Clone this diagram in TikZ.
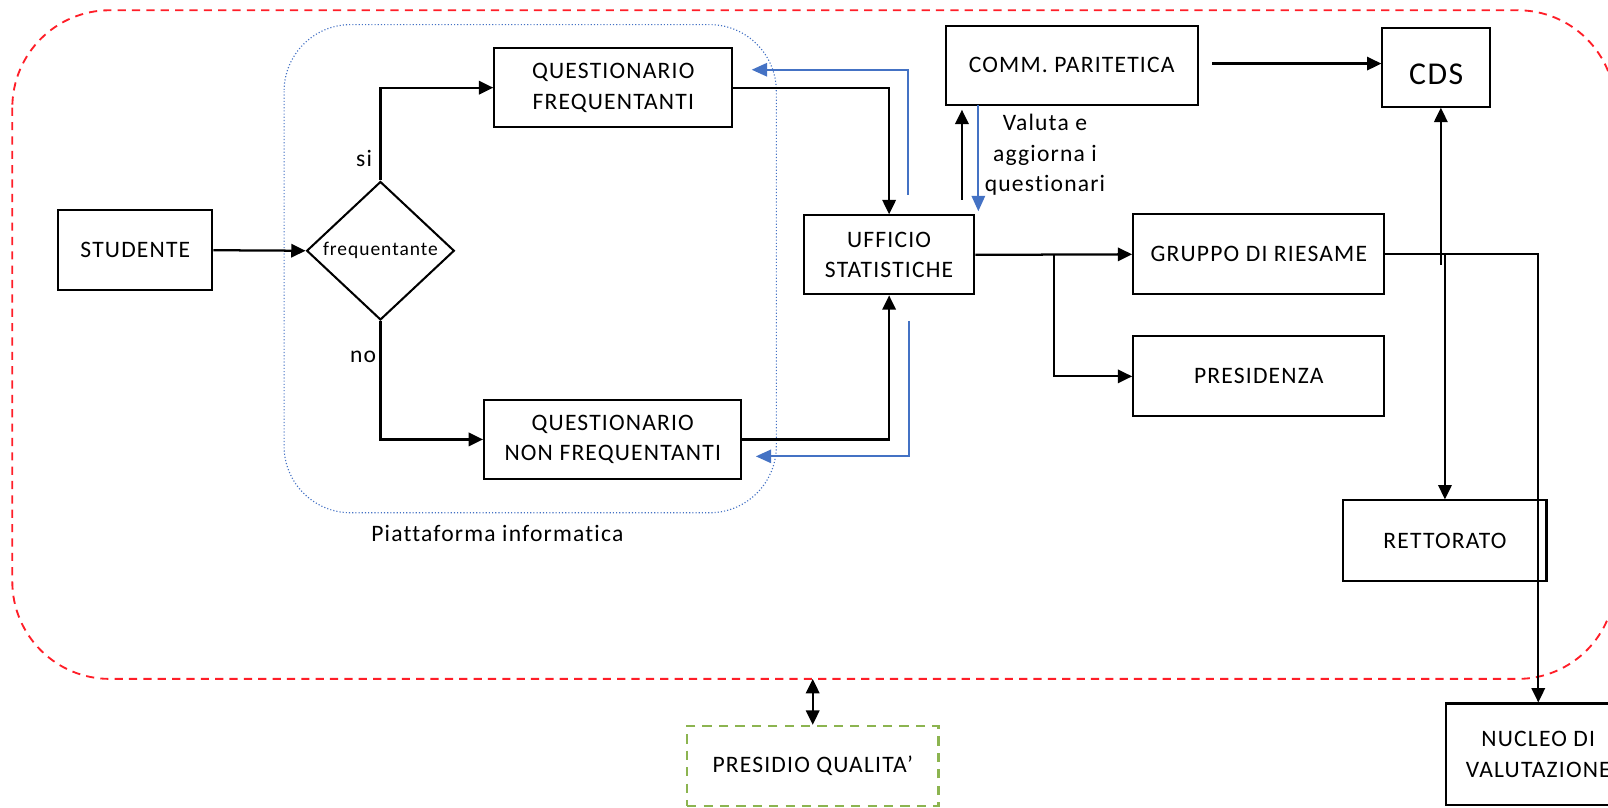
\documentclass[tikz,border=0pt]{standalone}
\usepackage{fontspec}
\setmainfont{Carlito}[LetterSpace=5,Ligatures={NoCommon}]
\usetikzlibrary{arrows.meta,shapes.geometric}
\definecolor{qblue}{RGB}{68,114,196}
\definecolor{qred}{RGB}{255,30,40}
\definecolor{qgreen}{RGB}{140,180,80}
\newcommand{\dfont}{\fontsize{23}{30}\selectfont}
\newcommand{\sfont}{\fontsize{19}{20}\selectfont}
\newcommand{\bfontx}{\fontsize{31}{32}\selectfont}
\tikzset{
  box/.style={draw, line width=2pt, inner sep=0pt, align=center, font=\dfont},
  conn/.style={line width=2.2pt},
  arr/.style={conn, -{Triangle[length=14pt,width=13pt]}},
  barr/.style={line width=2pt, draw=qblue, -{Triangle[length=15pt,width=13pt]}, color=qblue},
  lbl/.style={font=\dfont, inner sep=0pt, align=center},
}
\begin{document}
\begin{tikzpicture}[x=1pt,y=-1pt]
\clip (0,0) rectangle (1568,787);
% containers
\draw[qred, line width=1.8pt, dash pattern=on 8pt off 6pt, rounded corners=95pt] (12,10) rectangle (1575,662);
\draw[qblue, line width=1.1pt, dotted, rounded corners=65pt] (277,24) rectangle (757,500);
\node[lbl] (piatt) at (485,520) {Piattaforma informatica};

% nodes
\node[box, minimum width=150pt, minimum height=78pt] (stu) at (132,244) {STUDENTE};
\node[draw, line width=2pt, diamond, inner sep=0pt, minimum width=144pt, minimum height=135pt, font=\sfont] (dia) at (371,244.5) {frequentante};
\node[box, minimum width=232pt, minimum height=77pt] (qf) at (598,85.5) {QUESTIONARIO\\FREQUENTANTI};
\node[box, minimum width=251pt, minimum height=77pt] (qnf) at (597.5,428.5) {QUESTIONARIO\\NON FREQUENTANTI};
\node[box, minimum width=166pt, minimum height=77pt] (us) at (867,248.5) {UFFICIO\\STATISTICHE};
\node[box, minimum width=246pt, minimum height=77pt] (cp) at (1045,63.5) {COMM. PARITETICA};
\node[draw, line width=2pt, inner sep=0pt, font=\bfontx, minimum width=105pt, minimum height=77pt, text height=36pt, text depth=2pt] (cds) at (1400.5,65.5) {CDS};
\node[box, minimum width=245pt, minimum height=78pt] (gr) at (1227.5,248) {GRUPPO DI RIESAME};
\node[box, minimum width=245pt, minimum height=78pt] (pres) at (1227.5,367) {PRESIDENZA};
\node[box, minimum width=198pt, minimum height=79pt] (ret) at (1409,527.5) {RETTORATO};
\node[box, minimum width=180pt, minimum height=99pt] (nv) at (1500,735.5) {NUCLEO DI\\VALUTAZIONE};
\node[box, draw=qgreen, line width=2.4pt, dash pattern=on 9pt off 7pt, minimum width=245pt, minimum height=78pt] (pq) at (792.5,747) {PRESIDIO QUALITA’};

\node[lbl] (si) at (355,155) {si};
\node[lbl] (no) at (354,348) {no};
\node[lbl] (val) at (1019,151) {Valuta e\\aggiorna i\\questionari};

% coordinates for free ends
\coordinate (b1s) at (885,190);
\coordinate (b1t) at (733,68);
\coordinate (b2s) at (886,313);
\coordinate (b2t) at (737,445);
\coordinate (cpup) at (938,195);
\coordinate (cpupt) at (938,107);
\coordinate (cpdn) at (954,102);
\coordinate (cpdnt) at (954,206);
\coordinate (cpcds) at (1182,62);
\coordinate (cdsup) at (1405,258);
\coordinate (redbot) at (792.5,662);
\coordinate (split) at (1028,248.5);

% connectors
\draw[arr] (stu.east) -- (dia.west);
\draw[arr] (dia.north) |- (qf.west);
\draw[arr] (dia.south) |- (qnf.west);
\draw[arr] (qf.east) -| (us.north);
\draw[arr] (qnf.east) -| (us.south);
\draw[barr] (b1s) |- (b1t);
\draw[barr] (b2s) |- (b2t);
\draw[arr] (cpup) -- (cpupt);
\draw[barr] (cpdn) -- (cpdnt);
\draw[arr] (cpcds) -- (cpcds -| cds.west);
\draw[arr] (us.east) -- (gr.west);
\draw[arr] (split) |- (pres.west);
\draw[arr] (cdsup) -- (cdsup |- cds.south);
\draw[arr] (gr.east) -| (nv.north);
\draw[arr] (ret.north |- gr.east) -- (ret.north);
\draw[conn, {Triangle[length=14pt,width=13pt]}-{Triangle[length=14pt,width=13pt]}] (redbot) -- (pq.north);
\end{tikzpicture}
\end{document}
